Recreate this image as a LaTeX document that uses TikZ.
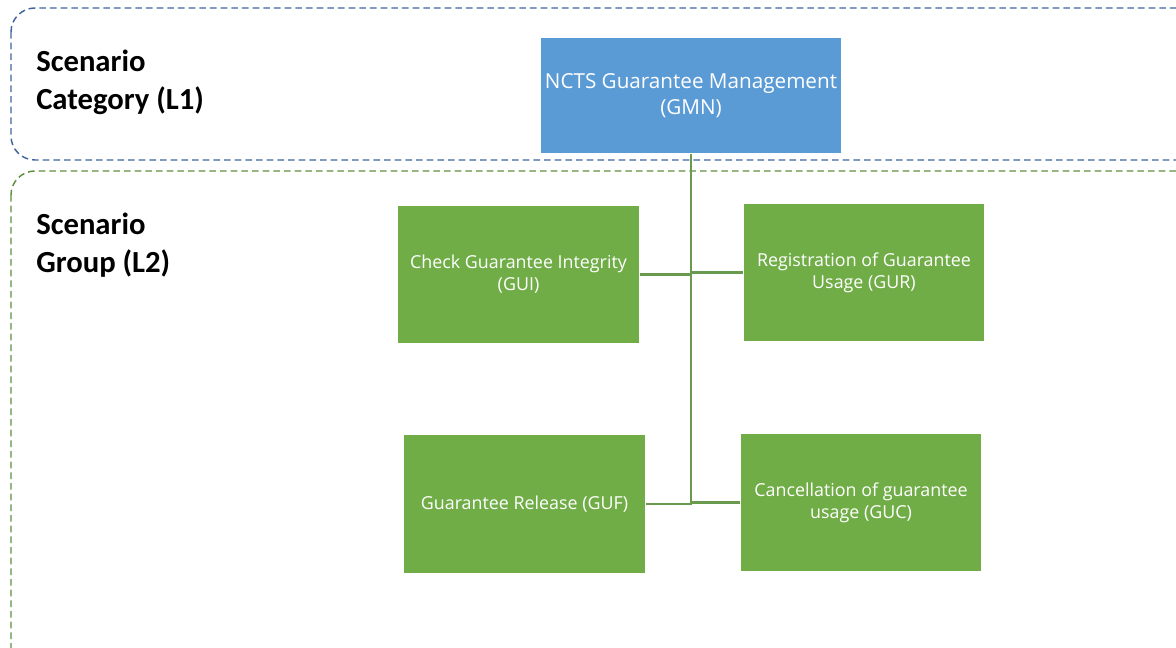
\documentclass[tikz,border=0pt]{standalone}
\usepackage{fontspec}
\setmainfont{Carlito}
\newfontfamily\boxfont{Open Sans}
\usetikzlibrary{positioning}
\definecolor{catblue}{HTML}{5B9BD5}
\definecolor{catline}{HTML}{41649E}
\definecolor{grpgreen}{HTML}{70AD47}
\definecolor{grpline}{HTML}{5E8E3E}
\definecolor{linkgreen}{HTML}{6A9A4E}

\begin{document}
\begin{tikzpicture}[x=0.75pt,y=-0.75pt,
    levelbox/.style={line width=1.1pt, dash pattern=on 5pt off 3pt, rounded corners=18pt},
    levellabel/.style={anchor=north west, align=left, font=\fontsize{23}{28.5}\selectfont\bfseries, inner sep=0pt},
    catnode/.style={fill=catblue, draw=white, line width=0.8pt, text=white, align=center,
      minimum width=224pt, minimum height=87pt, font=\boxfont\fontsize{15.5}{20}\selectfont},
    grpnode/.style={fill=grpgreen, draw=white, line width=0.8pt, text=white, align=center,
      minimum width=181pt, minimum height=104pt, font=\boxfont\fontsize{13.4}{16.5}\selectfont},
    link/.style={draw=linkgreen, line width=1.6pt}]
  \useasboundingbox (0,0) rectangle (1176,647);
  % Level boxes
  \draw[levelbox, catline] (11,8) rectangle (1200,160);
  \draw[levelbox, grpline] (11,171) rectangle (1200,680);
  \node[levellabel] (l1) at (36,50) {Scenario\\Category (L1)};
  \node[levellabel] (l2) at (36,213) {Scenario\\Group (L2)};
  % Category node
  \node[catnode] (gmn) at (691,95.5) {NCTS Guarantee Management\\(GMN)};
  % Group nodes
  \node[grpnode] (gui) at (518.5,274.5) {Check Guarantee Integrity\\(GUI)};
  \node[grpnode] (gur) at (864,272.5) {Registration of Guarantee\\Usage (GUR)};
  \node[grpnode] (guf) at (524.5,504) {Guarantee Release (GUF)};
  \node[grpnode] (guc) at (861,502.5) {Cancellation of guarantee\\usage (GUC)};
  % Connectors
  \draw[link] (gmn.south) |- (guf.east);
  \draw[link] (gui.east) -- (gui.east -| gmn.south);
  \draw[link] (gur.west) -- (gur.west -| gmn.south);
  \draw[link] (guc.west) -- (guc.west -| gmn.south);
\end{tikzpicture}
\end{document}
